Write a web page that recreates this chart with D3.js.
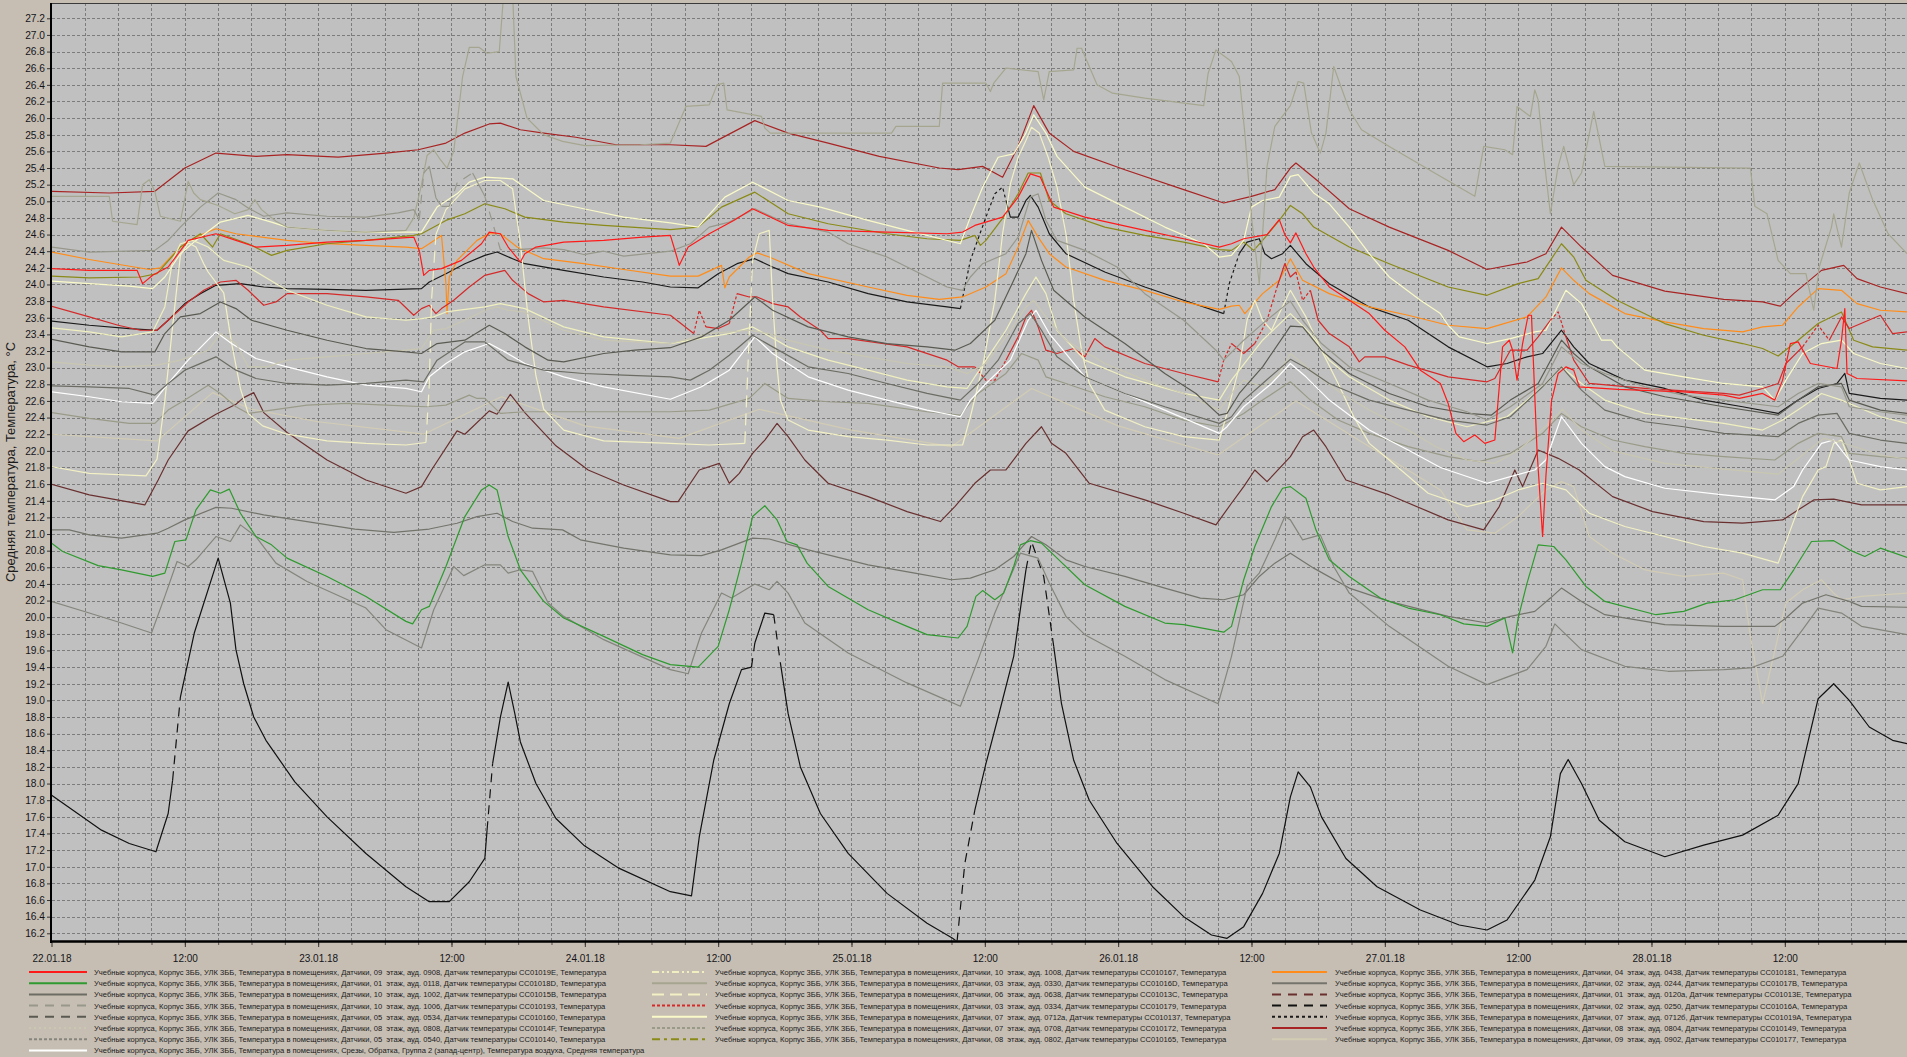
<!DOCTYPE html>
<html><head><meta charset="utf-8">
<script src="https://cdn.jsdelivr.net/npm/d3@7"></script>
<style>
html,body{margin:0;padding:0;background:#c6beb3;overflow:hidden}
svg{display:block}
text{font-family:"Liberation Sans",Arial,sans-serif}
</style></head><body>
<svg id="c" width="1907" height="1057"></svg>
<script>
// ---------------- DATA ----------------
// time in hours since 22.01.18 00:00, value in °C; optional third value 1 = data gap (interpolated segment)
const xTickHours = [0,12,24,36,48,60,72,84,96,108,120,132,144,156];
const xTickLabels = ['22.01.18','12:00','23.01.18','12:00','24.01.18','12:00','25.01.18','12:00','26.01.18','12:00','27.01.18','12:00','28.01.18','12:00'];
const yTickValues = d3.range(0,56).map(i => +(16.2 + i*0.2).toFixed(1));
const yTitle = 'Средняя температура, Температура, °C';

const seriesLabels = [
 'Учебные корпуса, Корпус 3ББ, УЛК 3ББ, Температура в помещениях, Датчики, 09  этаж, ауд. 0908, Датчик температуры СС01019E, Температура',
 'Учебные корпуса, Корпус 3ББ, УЛК 3ББ, Температура в помещениях, Датчики, 01  этаж, ауд. 0118, Датчик температуры СС01018D, Температура',
 'Учебные корпуса, Корпус 3ББ, УЛК 3ББ, Температура в помещениях, Датчики, 10  этаж, ауд. 1002, Датчик температуры СС01015B, Температура',
 'Учебные корпуса, Корпус 3ББ, УЛК 3ББ, Температура в помещениях, Датчики, 10  этаж, ауд. 1006, Датчик температуры СС010193, Температура',
 'Учебные корпуса, Корпус 3ББ, УЛК 3ББ, Температура в помещениях, Датчики, 05  этаж, ауд. 0534, Датчик температуры СС010160, Температура',
 'Учебные корпуса, Корпус 3ББ, УЛК 3ББ, Температура в помещениях, Датчики, 08  этаж, ауд. 0808, Датчик температуры СС01014F, Температура',
 'Учебные корпуса, Корпус 3ББ, УЛК 3ББ, Температура в помещениях, Датчики, 05  этаж, ауд. 0540, Датчик температуры СС010140, Температура',
 'Учебные корпуса, Корпус 3ББ, УЛК 3ББ, Температура в помещениях, Срезы, Обратка, Группа 2 (запад-центр), Температура воздуха, Средняя температура',
 'Учебные корпуса, Корпус 3ББ, УЛК 3ББ, Температура в помещениях, Датчики, 10  этаж, ауд. 1008, Датчик температуры СС010167, Температура',
 'Учебные корпуса, Корпус 3ББ, УЛК 3ББ, Температура в помещениях, Датчики, 03  этаж, ауд. 0330, Датчик температуры СС01016D, Температура',
 'Учебные корпуса, Корпус 3ББ, УЛК 3ББ, Температура в помещениях, Датчики, 06  этаж, ауд. 0638, Датчик температуры СС01013C, Температура',
 'Учебные корпуса, Корпус 3ББ, УЛК 3ББ, Температура в помещениях, Датчики, 03  этаж, ауд. 0334, Датчик температуры СС010179, Температура',
 'Учебные корпуса, Корпус 3ББ, УЛК 3ББ, Температура в помещениях, Датчики, 07  этаж, ауд. 0712а, Датчик температуры СС010137, Температура',
 'Учебные корпуса, Корпус 3ББ, УЛК 3ББ, Температура в помещениях, Датчики, 07  этаж, ауд. 0708, Датчик температуры СС010172, Температура',
 'Учебные корпуса, Корпус 3ББ, УЛК 3ББ, Температура в помещениях, Датчики, 08  этаж, ауд. 0802, Датчик температуры СС010165, Температура',
 'Учебные корпуса, Корпус 3ББ, УЛК 3ББ, Температура в помещениях, Датчики, 04  этаж, ауд. 0438, Датчик температуры СС010181, Температура',
 'Учебные корпуса, Корпус 3ББ, УЛК 3ББ, Температура в помещениях, Датчики, 02  этаж, ауд. 0244, Датчик температуры СС01017B, Температура',
 'Учебные корпуса, Корпус 3ББ, УЛК 3ББ, Температура в помещениях, Датчики, 01  этаж, ауд. 0120а, Датчик температуры СС01013E, Температура',
 'Учебные корпуса, Корпус 3ББ, УЛК 3ББ, Температура в помещениях, Датчики, 02  этаж, ауд. 0250, Датчик температуры СС01016A, Температура',
 'Учебные корпуса, Корпус 3ББ, УЛК 3ББ, Температура в помещениях, Датчики, 07  этаж, ауд. 0712б, Датчик температуры СС01019A, Температура',
 'Учебные корпуса, Корпус 3ББ, УЛК 3ББ, Температура в помещениях, Датчики, 08  этаж, ауд. 0804, Датчик температуры СС010149, Температура',
 'Учебные корпуса, Корпус 3ББ, УЛК 3ББ, Температура в помещениях, Датчики, 09  этаж, ауд. 0902, Датчик температуры СС010177, Температура'
];

const s01 = [[0,24.19],[3.4,24.17],[7.7,24.17],[8.2,24.01],[9.1,24.11],[10.5,24.21],[12.3,24.53],[14.8,24.61],[16.6,24.53],[18.4,24.45],[21.2,24.47],[24.8,24.51],[28.3,24.53],[32.6,24.57],[33.1,24.41],[33.5,24.11],[34.0,24.17],[35.1,24.19],[36.9,24.29],[38.7,24.49],[39.4,24.63],[40.4,24.61],[41.1,24.45],[42.2,24.27],[42.6,24.37],[43.6,24.45],[46.1,24.51],[49.7,24.53],[53.2,24.57],[55.7,24.59],[56.2,24.37],[56.5,24.23],[57.3,24.45],[59.2,24.61],[61.4,24.77],[63.1,24.91],[66.3,24.71],[69.9,24.65],[75.2,24.63],[80.6,24.61],[82.0,24.63],[83.1,24.71],[85.6,24.81],[87.0,25.05],[88.1,25.33],[89.0,25.29],[90.2,24.93],[93.0,24.81],[98.4,24.65],[101.9,24.55],[105.1,24.45],[106.2,24.49],[107.3,24.55],[109.4,24.6],[110.5,24.78],[111.0,24.6],[111.5,24.5],[112.0,24.62],[112.9,24.37],[113.6,24.21],[115.0,23.97],[116.8,23.81],[118.6,23.65],[120.0,23.45],[121.8,23.25],[123.2,22.97],[125.0,22.81],[125.7,22.57],[126.4,22.21],[127.1,22.11],[128.1,22.19],[129.0,22.09],[129.9,22.13],[130.6,23.25],[131.2,23.33],[131.5,23.21],[131.9,22.85],[132.4,23.29],[132.9,23.63],[133.2,23.63],[133.7,22.0],[134.2,20.97],[134.5,21.7],[135.0,22.6],[135.6,22.93],[136.3,23.01],[137.0,22.97],[137.5,22.77],[141.0,22.74],[146.9,22.71],[150.5,22.67],[151.9,22.63],[154.0,22.69],[155.1,22.61],[155.8,22.85],[156.5,23.29],[157.2,23.31],[158.3,23.05],[160.7,22.99],[161.1,23.33],[161.4,23.71],[161.6,22.93],[162.5,22.87],[167,22.84]];
const s02 = [[0,20.89],[1.0,20.79],[4.2,20.62],[6.3,20.57],[9.1,20.49],[10.2,20.53],[11.1,20.91],[12.1,20.93],[13.0,21.29],[14.3,21.53],[15.2,21.49],[16.0,21.54],[17.0,21.25],[18.4,20.97],[19.8,20.87],[21.2,20.71],[24.8,20.49],[28.3,20.25],[31.9,19.95],[32.5,19.92],[33.3,20.09],[34.0,20.13],[35.5,20.61],[37.2,21.21],[38.7,21.53],[39.4,21.59],[40.1,21.53],[41.1,20.97],[42.2,20.57],[44.3,20.19],[46.1,19.99],[49.7,19.77],[53.2,19.55],[55.7,19.43],[58.2,19.40],[60.0,19.65],[61.0,20.09],[62.1,20.65],[63.1,21.21],[64.2,21.34],[65.3,21.17],[66.2,20.91],[67.1,20.87],[68.0,20.65],[69.9,20.37],[73.5,20.09],[77.0,19.89],[78.8,19.79],[81.6,19.75],[82.4,19.89],[83.2,20.25],[83.8,20.32],[84.9,20.21],[85.7,20.29],[86.6,20.61],[87.2,20.87],[88.1,20.92],[89.1,20.89],[90.5,20.71],[93.0,20.39],[96.6,20.13],[100.2,19.93],[101.9,19.91],[105.5,19.82],[106.2,19.89],[107.3,20.45],[108.3,20.85],[109.8,21.33],[110.8,21.55],[111.5,21.57],[112.9,21.43],[113.8,21.05],[115.0,20.69],[116.8,20.49],[119.6,20.23],[122.1,20.11],[125.0,20.03],[127.1,19.92],[129.2,19.89],[130.8,19.99],[131.5,19.57],[132.0,19.99],[132.8,20.41],[133.8,20.87],[135.2,20.85],[136.3,20.69],[138.1,20.37],[139.8,20.19],[144.4,20.03],[146.9,20.07],[149.0,20.17],[151.5,20.21],[154.0,20.33],[155.6,20.33],[156.8,20.57],[158.4,20.91],[160.4,20.92],[161.8,20.81],[163.2,20.73],[164.6,20.83],[167,20.72]];
const s03 = [[0,22.78],[3.4,22.77],[7.0,22.75],[9.3,22.67],[10.5,22.81],[12.0,22.97],[14.8,23.13],[16.6,22.97],[18.4,22.87],[21.2,22.81],[24.8,22.79],[28.3,22.81],[31.9,22.85],[33.5,22.83],[34.7,23.09],[37.2,23.31],[39.0,23.31],[41.1,23.09],[44.3,22.97],[47.9,22.93],[51.5,22.91],[55.7,22.89],[57.5,22.85],[59.2,22.97],[61.0,23.15],[63.1,23.39],[64.9,23.25],[68.1,23.01],[71.7,22.93],[75.2,22.81],[78.8,22.69],[81.8,22.61],[83.4,22.81],[85.2,23.09],[87.0,23.53],[88.1,23.65],[89.1,23.45],[90.5,23.13],[93.0,22.89],[96.6,22.69],[100.2,22.53],[105.1,22.33],[106.2,22.41],[107.3,22.61],[109.0,22.81],[111.5,23.1],[112.9,23.0],[115.0,22.81],[118.6,22.61],[122.1,22.49],[125.7,22.37],[129.2,22.31],[131.3,22.41],[134.2,22.77],[135.9,23.01],[137.7,22.73],[139.8,22.49],[143.4,22.35],[146.9,22.29],[150.5,22.21],[155.4,22.17],[157.2,22.33],[159.0,22.43],[160.7,22.45],[161.8,22.21],[164.6,22.13],[167,22.09]];
const s04 = [[0,24.45],[3.4,24.39],[9.3,24.41],[10.5,24.53],[11.6,24.69],[13.4,24.93],[15.0,25.10],[16.6,25.02],[17.7,24.92],[19.1,24.82],[21.2,24.86],[24.8,24.82],[28.3,24.81],[31.2,24.86],[32.6,24.9],[33.1,24.78],[33.5,25.34,1],[34.0,25.42],[34.6,25.04],[35.1,24.94,1],[35.8,24.94],[36.5,25.22,1],[37.9,25.34,1],[39.0,25.06],[40.4,24.42,1],[41.9,24.42,1],[44.3,24.44],[46.1,24.42],[47.9,24.36],[49.7,24.40],[51.5,24.34],[55.7,24.40],[57.5,24.49],[59.2,24.69],[61.0,24.75],[63.3,24.91],[64.9,24.81],[66.3,24.73],[69.9,24.63],[71.7,24.49],[75.2,24.33],[78.8,24.09],[80.6,23.97],[82.0,23.93],[82.7,24.09],[83.8,24.25],[85.9,24.37],[87.0,24.57],[88.1,25.05],[88.8,25.09],[89.5,24.77],[90.5,24.53],[93.0,24.41],[95.9,24.21],[98.4,23.89],[101.9,23.57],[104.8,23.21],[105.5,23.09],[107.3,23.33],[109.0,23.53],[111.5,23.8],[112.6,23.57],[114.3,23.29],[116.8,23.01],[120.4,22.81],[123.9,22.61],[127.4,22.47],[129.2,22.37],[131.3,22.53],[134.2,22.81],[135.9,23.25],[137.7,23.05],[139.8,22.93],[143.4,22.77],[146.9,22.67],[150.5,22.61],[155.4,22.53],[157.2,22.69],[159.0,22.81],[161.1,22.77],[161.8,22.53],[164.6,22.47],[167,22.43]];
const s05 = [[0,23.34],[3.4,23.25],[6.3,23.19],[9.3,23.19],[10.2,23.41],[11.6,23.61],[13.4,23.65],[15.2,23.79],[16.6,23.71],[18.0,23.57],[21.2,23.45],[24.8,23.33],[28.3,23.23],[31.9,23.19],[33.3,23.17],[34.7,23.29],[37.2,23.33],[39.4,23.51],[40.8,23.41],[42.6,23.25],[44.7,23.09],[46.1,23.07],[49.7,23.17],[52.5,23.21],[55.7,23.24],[58.5,23.37],[61.0,23.57],[63.3,23.85],[64.9,23.69],[68.1,23.49],[71.7,23.37],[75.2,23.29],[78.8,23.25],[81.3,23.21],[82.7,23.29],[84.9,23.57],[86.6,24.05],[87.7,24.37],[88.2,24.65],[89.1,24.29],[90.2,23.93],[93.0,23.61],[96.6,23.29],[100.2,22.93],[103.0,22.69],[105.1,22.43],[105.8,22.45],[106.9,22.69],[109.0,23.01],[111.5,23.5],[112.6,23.49],[114.3,23.21],[116.8,22.93],[120.4,22.69],[123.9,22.53],[127.4,22.45],[129.6,22.43],[131.3,22.61],[133.8,22.81],[135.9,23.33],[137.0,23.17],[138.4,23.01],[141.6,22.77],[145.2,22.65],[150.5,22.53],[155.4,22.43],[157.2,22.61],[159.0,22.77],[161.1,22.81],[161.8,22.61],[164.6,22.49],[167,22.45]];
const s06 = [[0,23.07],[3.4,23.03],[6.3,23.01],[9.5,23.03],[11.6,23.09],[14.1,23.21],[15.2,23.41],[16.6,23.29],[17.7,23.01],[19.4,23.01],[21.2,23.09],[24.8,23.13],[28.3,23.17],[31.9,23.21],[33.3,23.23],[34.4,23.45],[35.5,23.47],[37.2,23.57],[39.0,23.69],[40.1,23.73],[41.1,23.69],[42.6,23.67],[46.1,23.45],[49.7,23.33],[55.7,23.29],[59.2,23.41],[62.8,23.45],[64.6,23.41],[66.3,23.33],[69.9,23.21],[73.5,23.13],[77.0,23.05],[80.6,23.01],[82.4,22.93],[84.1,23.05],[85.9,23.37],[87.7,23.73],[88.4,23.81],[89.5,23.61],[91.3,23.33],[94.8,23.05],[98.4,22.85],[101.9,22.69],[105.1,22.49],[106.2,22.69],[107.3,22.85],[109.0,22.77],[110.5,22.93],[111.5,23.17],[113.3,22.97],[116.1,22.69],[118.6,22.49],[122.1,22.25],[124.6,22.05],[127.4,21.89],[129.9,21.85],[132.0,22.0],[134.5,22.3],[136.0,22.5],[137.7,22.25],[140.5,22.0],[145.2,21.85],[150.5,21.78],[155.4,21.72],[157.6,21.95],[159.5,22.15],[161.1,22.1],[164.6,21.95],[167,21.9]];
const s07 = [[0,20.19],[3.4,20.05],[6.3,19.93],[9.0,19.81],[10.2,20.25],[11.3,20.67],[12.3,20.61],[13.0,20.69],[14.8,20.97],[16.1,20.91],[17.0,21.11],[18.4,20.97],[20.2,20.65],[23.0,20.43],[28.3,20.11],[30.1,19.85],[33.3,19.63],[34.4,20.09],[36.2,20.61],[37.1,20.50],[39.0,20.63],[40.4,20.63],[41.1,20.53],[42.2,20.57],[43.3,20.55],[44.7,20.17],[46.1,20.01],[49.7,19.73],[55.7,19.37],[57.3,19.32],[58.5,19.81],[60.3,20.29],[61.2,20.23],[63.3,20.40],[64.6,20.33],[65.3,20.43],[66.3,20.29],[67.8,19.93],[71.7,19.57],[77.0,19.21],[80.6,19.00],[81.8,18.93],[83.4,19.49],[84.9,20.05],[86.3,20.49],[87.2,20.77],[88.8,20.71],[89.8,20.41],[91.3,20.01],[93.0,19.79],[96.6,19.53],[100.2,19.25],[105.0,18.96],[106.2,19.53],[107.6,20.37],[108.7,20.53],[110.1,20.93],[111.0,21.21],[111.5,21.17],[112.6,20.93],[114.2,20.99],[115.4,20.61],[116.8,20.29],[120.4,19.89],[125.7,19.41],[129.2,19.19],[132.8,19.37],[134.5,19.65],[135.3,19.92],[137.7,19.61],[141.6,19.41],[145.5,19.35],[150.5,19.37],[152.9,19.39],[155.8,19.53],[157.6,19.85],[159.0,20.11],[161.1,20.05],[162.9,19.89],[167,19.79]];
const s08 = [[0,22.71],[3.4,22.65],[6.3,22.59],[9.1,22.57],[10.5,22.81],[12.3,23.09],[14.8,23.43],[16.2,23.29],[18.4,23.11],[21.2,23.01],[24.8,22.89],[28.3,22.79],[31.9,22.75],[33.3,22.71],[34.0,22.89],[35.5,23.05],[37.2,23.19],[39.4,23.29],[40.8,23.19],[42.6,23.05],[46.1,22.89],[49.7,22.77],[55.7,22.62],[58.5,22.77],[61.0,22.97],[63.3,23.37],[64.9,23.17],[68.1,22.89],[71.7,22.73],[75.2,22.61],[78.8,22.49],[81.8,22.41],[82.7,22.61],[84.1,22.81],[86.3,23.09],[87.9,23.57],[88.6,23.69],[89.8,23.41],[91.3,23.17],[93.0,22.89],[96.6,22.69],[100.2,22.49],[105.1,22.21],[105.8,22.29],[107.3,22.53],[109.8,22.81],[111.5,23.05],[112.9,22.89],[115.0,22.61],[118.6,22.25],[122.1,22.01],[125.0,21.8],[129.2,21.61],[131.3,21.69],[133.5,21.77],[134.5,21.89],[135.9,22.41],[137.7,22.09],[139.8,21.81],[141.6,21.69],[145.2,21.55],[150.5,21.47],[155.1,21.41],[156.8,21.57],[157.6,21.77],[159.3,22.09],[160.4,22.13],[161.8,21.89],[164.6,21.81],[167,21.77]];
const s09 = [[0,23.48],[3.4,23.43],[6.3,23.37],[9.1,23.43],[10.2,23.73],[10.9,24.29],[11.6,24.49],[12.7,24.53],[14.1,24.45],[15.5,24.29],[17.7,24.21],[21.2,23.93],[24.8,23.75],[28.3,23.61],[31.9,23.57],[33.3,23.59],[34.4,23.61],[35.5,23.67],[39.0,23.73],[40.4,23.77],[42.6,23.71],[46.1,23.49],[49.7,23.37],[55.7,23.29],[59.2,23.37],[61.0,23.41],[63.1,23.49],[66.3,23.25],[69.9,23.09],[73.5,22.97],[77.0,22.85],[80.6,22.77],[82.4,22.75],[84.1,23.09],[85.9,23.45],[87.7,23.89],[88.6,24.09],[89.5,23.89],[90.5,23.45],[93.0,23.09],[96.6,22.89],[101.9,22.69],[105.1,22.61],[106.2,22.85],[107.6,23.09],[109.0,23.33],[111.5,23.65],[113.3,23.41],[115.0,23.09],[116.8,22.89],[120.4,22.61],[123.9,22.41],[127.4,22.29],[131.0,22.41],[132.8,22.61],[134.5,22.81],[135.9,23.01],[137.7,22.81],[139.8,22.61],[143.4,22.45],[146.9,22.39],[150.5,22.33],[154.0,22.25],[155.8,22.37],[157.6,22.53],[159.3,22.69],[161.1,22.61],[164.6,22.41],[167,22.33]];
const s10 = [[0,25.06],[5.2,25.06],[5.5,24.76],[7.7,24.72],[8.2,25.2],[8.8,25.26],[9.3,25.12],[9.8,24.82],[11.6,24.76],[12.3,25.24],[12.8,25.1],[13.4,25.02],[15.0,24.95],[16.5,24.85],[17.7,24.9],[18.3,25.02],[18.9,24.9],[20.2,24.76],[21.2,24.69],[24.8,24.65],[28.3,24.63],[31.9,24.65],[32.6,24.8],[33.3,25.2],[33.8,25.55],[34.4,25.62],[35.0,25.5],[35.6,25.4],[36.2,25.6],[37.0,26.5],[37.6,26.85],[38.5,26.85],[39.2,26.78],[40.3,26.8],[40.7,27.5],[41.5,27.5],[41.8,26.5],[42.8,26.0],[44.3,25.8],[46.0,25.72],[48.0,25.67],[53.0,25.68],[55.7,25.70],[57.1,26.14],[59.2,26.16],[59.9,26.40],[60.5,26.42],[60.8,26.10],[63.9,26.02],[64.2,25.88],[64.7,25.82],[75.6,25.82],[76.0,25.90],[79.9,25.90],[80.2,26.42],[84.1,26.42],[84.5,26.32],[84.8,26.42],[85.9,26.60],[88.8,26.56],[89.3,26.22],[89.8,26.56],[92.0,26.58],[92.3,26.84],[92.7,26.84],[94.1,26.40],[95.5,26.30],[98.4,26.24],[103.7,26.15],[104.1,26.54],[104.8,26.82],[106.2,26.68],[106.9,26.50],[107.4,25.82],[108.0,24.81],[108.7,24.01],[109.0,24.61],[109.4,25.42],[110.1,25.90],[111.5,26.15],[112.2,26.44],[112.7,26.42],[113.4,25.82],[114.2,25.58],[114.7,25.82],[115.4,26.62],[116.8,26.10],[117.9,25.86],[120.4,25.66],[124.6,25.33],[128.1,25.06],[128.9,25.66],[130.8,25.62],[131.5,25.56],[131.9,26.14],[133.1,26.02],[133.5,26.34],[133.8,26.22],[134.2,25.66],[134.9,24.85],[135.6,25.42],[136.1,25.66],[137.0,25.20],[137.7,25.34],[138.8,26.08],[139.8,25.42],[152.9,25.40],[153.3,24.94],[154.4,24.85],[155.4,24.29],[156.5,24.13],[157.9,24.13],[158.6,23.69],[159.1,24.21],[160.2,24.69],[160.4,24.85],[161.1,24.45],[161.8,25.10],[162.7,25.46],[163.9,25.02],[165.3,24.61],[167,24.37]];
const s11 = [[0,21.81],[3.4,21.73],[8.5,21.7],[9.5,21.9],[10.2,22.6],[10.9,23.5],[11.6,24.35],[12.3,24.5],[13.0,24.45],[13.7,24.25],[14.1,24.15],[15.5,23.9],[16.2,23.3],[17.0,22.75],[17.7,22.45],[19.0,22.3],[21.2,22.2],[24.8,22.12],[28.3,22.09],[31.9,22.07],[33.7,22.1],[34.0,22.8,1],[34.2,23.8,1],[34.6,24.6,1],[35.5,24.9],[37.2,25.15],[39.0,25.25],[40.4,25.25],[41.5,25.15],[42.2,24.5],[42.9,23.6],[43.6,22.9],[44.3,22.5],[46.1,22.25],[49.7,22.12],[55.7,22.09],[59.2,22.07],[62.4,22.09],[62.8,23.41,1],[63.1,24.29,1],[63.7,24.61],[64.6,24.65],[64.9,23.81],[65.3,23.01],[65.6,22.61],[66.3,22.37],[68.1,22.25],[71.7,22.17],[75.2,22.13],[78.8,22.07],[82.0,22.07],[82.7,22.41],[83.8,23.01],[84.9,23.81],[85.6,24.61],[86.3,25.21],[87.0,25.53],[87.7,25.73],[88.2,25.89],[88.9,25.82],[89.7,25.53],[90.5,25.17],[91.3,24.61],[92.0,23.81],[92.7,23.21],[93.4,22.81],[94.8,22.49],[98.4,22.29],[101.9,22.17],[105.1,22.13],[105.8,22.45],[106.9,23.01],[107.6,23.57],[108.3,23.81],[109.0,23.57],[109.8,23.45],[110.5,23.65],[111.5,23.93],[112.9,23.61],[114.3,23.21],[115.8,22.81],[117.2,22.41],[118.6,22.09],[120.4,21.89],[123.9,21.49],[127.4,21.33],[129.9,21.41],[132.0,21.53],[134.2,21.61],[136.3,21.53],[138.4,21.25],[141.6,21.09],[145.2,20.97],[148.7,20.85],[152.2,20.77],[155.4,20.65],[156.5,21.05],[157.6,21.45],[159.0,21.77],[159.7,21.81],[160.4,22.09],[161.1,22.13],[161.8,21.89],[162.5,21.61],[164.6,21.53],[167,21.57]];
const s12 = [[0,23.74],[3.4,23.61],[6.0,23.51],[8.0,23.45],[9.5,23.45],[10.5,23.57],[12.3,23.79],[13.7,23.93],[15.2,24.03],[16.6,24.05],[17.7,23.93],[19.1,23.75],[20.2,23.79],[21.2,23.89],[24.8,23.89],[28.3,23.85],[31.2,23.81],[32.6,23.63],[33.3,23.71],[34.0,23.75],[34.6,23.65],[35.1,23.71],[36.2,23.81],[37.6,23.97],[39.0,24.11],[40.8,24.17],[41.5,24.05],[42.9,23.89],[44.3,23.79],[46.1,23.81],[49.7,23.73],[55.7,23.63],[57.8,23.41],[58.3,23.69,1],[58.9,23.49,1],[60.0,23.47],[61.0,23.53],[61.7,23.89,1],[62.8,23.85],[63.5,23.85],[64.9,23.77],[66.3,23.73],[67.4,23.61],[69.2,23.45],[69.9,23.35],[71.7,23.35],[77.0,23.25],[80.6,23.09],[81.6,23.01],[83.1,23.01],[84.1,22.85,1],[84.9,22.85,1],[85.9,23.09,1],[87.0,23.37],[87.7,23.61],[88.2,23.69],[88.8,23.49],[89.5,23.21],[90.5,23.17],[92.0,23.23],[93.0,23.13],[93.9,23.35],[94.8,23.25],[98.4,23.05],[101.9,22.93],[105.0,22.83],[105.5,23.09,1],[106.2,23.29,1],[107.3,23.17],[108.3,23.29],[109.4,23.57,1],[110.3,23.97,1],[111.0,24.25],[111.5,24.09],[112.0,24.15],[112.6,23.81,1],[113.3,23.93,1],[114.0,23.57],[115.0,23.41],[116.8,23.25],[117.7,23.07],[118.2,23.13],[120.0,23.13],[122.1,23.03],[125.7,22.89],[129.2,22.83],[129.9,22.87],[131.3,23.21],[132.8,23.21],[133.8,23.37],[134.9,23.57],[135.6,23.67,1],[136.3,23.37,1],[137.0,23.09],[138.4,22.81],[143.4,22.75],[150.5,22.69],[151.9,22.67],[154.0,22.75],[155.4,22.81],[156.1,23.05],[157.6,23.25],[159.0,23.51,1],[160.0,23.33,1],[161.1,23.61],[161.8,23.47],[164.6,23.63],[165.7,23.41],[167,23.43]];
const s13 = [[0,24.04],[3.4,24.01],[7.0,23.98],[9.1,23.95],[10.2,24.09],[11.6,24.37],[13.0,24.53],[15.2,24.75],[17.7,24.83],[19.8,24.75],[21.2,24.69],[24.8,24.65],[28.3,24.63],[33.3,24.63],[34.7,24.93],[36.5,25.09],[37.6,25.23],[39.0,25.29],[41.5,25.27],[44.3,25.01],[47.9,24.91],[51.5,24.81],[55.7,24.74],[58.2,24.69],[60.6,25.05],[63.1,25.23],[66.3,25.01],[69.2,24.93],[73.5,24.77],[77.0,24.65],[81.8,24.49],[82.7,24.81],[83.8,25.17],[85.2,25.53],[86.6,25.57],[87.7,25.82],[88.4,26.04],[89.5,25.82],[90.5,25.54],[93.0,25.17],[96.6,24.93],[100.2,24.69],[103.7,24.49],[105.1,24.33],[106.2,24.35],[107.3,24.53],[108.0,24.93],[109.0,25.01],[110.5,25.05],[111.5,25.3],[112.2,25.32],[113.6,25.10],[115.0,24.97],[116.8,24.69],[118.6,24.37],[120.4,24.09],[123.2,23.81],[125.0,23.65],[125.7,23.51],[126.7,23.37],[129.2,23.29],[131.3,23.35],[133.5,23.43],[134.5,23.45],[136.3,23.93],[137.7,23.77],[139.5,23.33],[140.4,23.33],[140.9,23.25],[143.4,22.97],[146.9,22.89],[150.5,22.81],[154.0,22.77],[155.1,22.61],[156.1,22.85],[157.6,23.17],[159.3,23.29],[161.1,23.33],[162.2,23.17],[164.6,23.05],[167,22.99]];
const s14 = [[0,22.46],[3.4,22.39],[7.0,22.33],[9.3,22.33],[10.5,22.49],[12.0,22.61],[14.1,22.79],[15.2,22.69],[16.6,22.53],[17.7,22.45],[19.8,22.49],[23.0,22.55],[26.6,22.57],[30.1,22.55],[33.7,22.53],[35.5,22.55],[37.6,22.67],[38.3,22.63],[39.0,22.63],[40.4,22.45],[42.6,22.47],[46.1,22.47],[55.7,22.47],[59.2,22.49],[62.8,22.63],[64.2,22.81],[64.9,22.75],[66.3,22.63],[69.9,22.59],[73.5,22.57],[78.8,22.47],[81.8,22.43],[83.4,22.69],[85.9,22.93],[87.3,23.17],[88.8,23.09],[89.5,22.89],[91.3,22.81],[94.8,22.65],[98.4,22.53],[101.9,22.37],[105.1,22.29],[107.3,22.45],[109.0,22.61],[111.5,22.83],[113.3,22.61],[115.8,22.37],[118.6,22.21],[122.1,22.05],[125.7,21.93],[128.5,21.87],[131.3,21.97],[134.2,22.21],[135.9,22.45],[137.7,22.29],[140.5,22.13],[143.4,22.05],[146.9,21.97],[150.5,21.93],[155.1,21.89],[157.2,22.09],[159.0,22.21],[161.1,22.17],[161.8,21.97],[164.6,21.93],[167,21.91]];
const s15 = [[0,24.10],[3.4,24.08],[8.0,24.09],[9.5,24.13],[11.6,24.45],[13.4,24.61],[14.5,24.45],[15.2,24.61],[17.7,24.49],[19.8,24.35],[21.2,24.41],[24.8,24.49],[28.3,24.53],[32.6,24.59],[33.3,24.61],[35.5,24.77],[37.2,24.85],[39.0,24.97],[40.8,24.91],[42.6,24.81],[46.1,24.75],[49.7,24.71],[55.7,24.66],[58.2,24.69],[60.3,24.93],[63.3,25.11],[66.3,24.85],[69.9,24.73],[75.2,24.61],[78.8,24.55],[81.8,24.53],[83.1,24.59],[83.6,24.47],[84.1,24.53],[85.9,24.85],[87.0,25.09],[87.9,25.34],[89.0,25.34],[89.8,25.01],[91.3,24.85],[94.8,24.69],[98.4,24.59],[101.9,24.51],[105.1,24.42],[106.2,24.41],[107.3,24.51],[108.2,24.41],[109.0,24.53],[110.5,24.77],[111.5,24.95],[112.6,24.85],[113.6,24.69],[116.8,24.45],[120.4,24.25],[125.7,23.97],[129.2,23.87],[132.0,24.01],[133.8,24.07],[134.9,24.29],[135.9,24.49],[137.0,24.33],[138.1,24.05],[140.9,23.81],[145.2,23.53],[148.7,23.39],[152.2,23.29],[154.0,23.23],[155.4,23.14],[157.2,23.33],[159.0,23.53],[161.1,23.67],[162.2,23.33],[163.9,23.25],[167,23.21]];
const s16 = [[0,24.39],[3.4,24.30],[8.8,24.18],[9.8,24.20],[11.6,24.45],[13.0,24.57],[14.8,24.67],[16.6,24.61],[21.2,24.53],[24.8,24.49],[28.3,24.47],[31.9,24.45],[33.3,24.43],[34.0,24.49],[35.1,24.59],[35.5,24.01],[35.6,23.65],[35.8,24.09],[36.5,24.29],[38.3,24.53],[39.4,24.61],[40.4,24.61],[41.9,24.45],[44.3,24.31],[47.9,24.25],[51.5,24.18],[55.7,24.10],[58.2,24.10],[60.3,24.23],[60.6,23.96],[61.0,24.09],[62.8,24.33],[63.5,24.38],[64.6,24.33],[68.1,24.13],[73.5,23.97],[77.0,23.87],[79.9,23.82],[82.0,23.85],[84.1,23.97],[85.9,24.13],[87.0,24.45],[87.9,24.77],[88.8,24.57],[89.8,24.37],[91.3,24.21],[94.8,24.05],[98.4,23.93],[101.9,23.79],[105.1,23.70],[106.2,23.74],[106.9,23.75],[107.4,23.65],[109.0,23.89],[110.5,24.05],[111.5,24.31],[112.6,24.05],[115.0,23.89],[118.6,23.73],[122.1,23.63],[125.7,23.51],[129.2,23.47],[132.8,23.61],[134.5,23.85],[135.9,24.20],[137.0,24.05],[138.4,23.89],[141.6,23.65],[145.2,23.55],[148.7,23.47],[152.2,23.43],[154.0,23.49],[155.8,23.51],[157.2,23.73],[159.0,23.95],[161.1,23.93],[162.5,23.77],[164.6,23.69],[167,23.67]];
const s17 = [[0,21.05],[1.6,21.05],[3.4,20.99],[6.3,20.95],[9.5,21.01],[10.5,21.07],[12.0,21.17],[14.8,21.32],[16.2,21.31],[19.1,21.23],[23.0,21.15],[27.3,21.06],[30.8,21.02],[34.0,21.06],[36.5,21.13],[38.3,21.21],[40.1,21.25],[41.5,21.15],[43.3,21.07],[46.0,21.05],[47.6,20.93],[51.5,20.83],[55.7,20.75],[58.5,20.74],[60.3,20.81],[63.1,20.95],[64.6,20.94],[68.1,20.81],[73.5,20.63],[77.7,20.53],[81.0,20.45],[82.7,20.47],[84.9,20.57],[86.6,20.73],[88.2,20.97],[89.5,20.87],[91.3,20.69],[93.0,20.61],[96.6,20.49],[100.2,20.35],[103.4,20.23],[105.5,20.21],[107.3,20.27],[108.7,20.49],[110.1,20.65],[111.5,20.77],[113.6,20.59],[116.8,20.35],[120.4,20.19],[125.7,20.01],[129.2,19.93],[131.3,20.01],[133.5,20.07],[134.9,20.23],[135.9,20.35],[137.7,20.19],[139.8,20.03],[145.2,19.91],[150.5,19.89],[155.1,19.89],[156.1,19.99],[157.6,20.17],[159.7,20.27],[161.8,20.19],[162.9,20.13],[167,20.12]];
const s18 = [[0,21.6],[3.4,21.47],[8.4,21.35],[9.6,21.65],[10.5,21.89],[12.3,22.24],[14.8,22.44],[16.6,22.56],[17.3,22.64],[18.2,22.7],[19.1,22.46],[21.2,22.22],[24.8,21.89],[28.3,21.65],[31.9,21.49],[33.3,21.57],[34.2,21.77],[36.5,22.24],[37.2,22.2],[39.4,22.48],[40.1,22.44],[41.3,22.68],[42.6,22.46],[45.4,22.06],[48.3,21.77],[51.5,21.59],[55.7,21.39],[56.4,21.39],[58.3,21.77],[60.1,21.85],[61.0,21.61],[61.9,21.73],[63.1,21.97],[64.2,22.13],[65.3,22.33],[66.3,22.17],[67.8,21.89],[69.9,21.61],[73.5,21.45],[77.0,21.27],[80.0,21.15],[81.3,21.33],[83.1,21.61],[84.5,21.77],[85.9,21.77],[87.7,22.09],[89.1,22.29],[90.0,22.09],[91.3,21.97],[93.4,21.61],[98.4,21.41],[101.9,21.25],[104.8,21.11],[106.2,21.37],[107.3,21.57],[108.3,21.77],[109.4,21.63],[111.5,21.93],[112.6,22.17],[113.6,22.25],[114.7,22.05],[116.5,21.65],[120.4,21.47],[125.7,21.17],[128.9,21.05],[130.3,21.33],[131.7,21.77],[132.4,21.57],[133.8,22.01],[135.6,21.91],[137.5,21.77],[140.5,21.45],[144.1,21.27],[148.7,21.15],[152.2,21.13],[155.8,21.17],[158.6,21.41],[160.4,21.42],[162.9,21.35],[167,21.35]];
const s19 = [[0,17.86],[4.5,17.44],[7.0,17.28],[9.4,17.18],[10.5,17.64],[10.9,18.04],[11.6,19.04,1],[12.85,19.81],[15.0,20.71],[16.1,20.17],[16.6,19.61],[17.3,19.2],[18.2,18.8],[19.3,18.52],[21.9,18.02],[24.8,17.6],[28.3,17.16],[31.9,16.76],[34.0,16.58],[35.8,16.58],[37.6,16.82],[39.0,17.1],[39.2,17.44],[39.7,18.24,1],[40.4,18.8],[41.1,19.22],[41.7,18.84],[42.2,18.5],[43.6,18.0],[45.4,17.58],[47.9,17.26],[51.1,16.98],[55.7,16.7],[57.6,16.65],[58.3,17.36],[59.6,18.28],[61.0,18.96],[62.1,19.37],[63.0,19.4],[63.3,19.69,1],[64.2,20.05],[65.0,20.03],[65.6,19.45,1],[66.3,18.84],[67.4,18.2],[69.2,17.64],[71.7,17.16],[75.2,16.68],[78.8,16.32],[81.1,16.14],[81.5,16.1],[82.2,17.04,1],[83.1,17.68,1],[84.1,18.24],[85.2,18.8],[86.6,19.53],[87.7,20.57],[88.2,20.91,1],[89.3,20.49,1],[90.2,19.65,1],[90.9,18.96],[92.0,18.28],[93.4,17.8],[95.9,17.28],[99.1,16.76],[101.9,16.4],[104.4,16.18],[105.8,16.14],[107.3,16.28],[109.0,16.68],[110.5,17.16],[111.5,17.84],[112.2,18.14],[113.3,17.96],[114.3,17.6],[116.5,17.1],[119.3,16.76],[123.2,16.48],[126.7,16.3],[129.2,16.24],[131.0,16.36],[133.5,16.84],[134.9,17.36],[135.8,18.12],[136.5,18.29],[137.7,18.0],[139.3,17.56],[141.6,17.3],[145.2,17.12],[148.7,17.26],[152.2,17.38],[155.4,17.62],[157.2,18.0],[159.0,19.02],[160.4,19.2],[161.8,19.0],[163.6,18.68],[165.7,18.52],[167,18.48]];
const s20 = [[0,23.56],[3.4,23.51],[7.0,23.47],[9.5,23.45],[10.5,23.57],[12.0,23.77],[13.4,23.89],[14.8,23.99],[17.0,24.01],[19.1,23.97],[21.2,23.95],[24.8,23.94],[28.3,23.93],[33.3,23.95],[34.0,24.03],[35.5,24.13],[37.2,24.25],[39.0,24.35],[40.1,24.39],[41.5,24.31],[42.6,24.25],[46.1,24.17],[49.7,24.09],[53.2,24.03],[55.7,23.97],[58.2,23.96],[60.0,24.13],[61.7,24.25],[63.3,24.31],[64.9,24.21],[66.3,24.13],[69.9,24.03],[73.5,23.89],[77.0,23.79],[80.6,23.73],[81.8,23.71],[82.7,24.29,1],[84.1,24.81,1],[84.9,25.09,1],[85.6,25.17,1],[85.9,25.01,1],[86.3,24.81],[87.0,24.81],[87.7,25.01],[88.1,25.07],[88.8,24.93],[89.8,24.61],[91.3,24.37],[94.8,24.15],[98.4,23.97],[101.9,23.81],[105.5,23.65],[106.0,24.01,1],[106.9,24.37,1],[107.6,24.51],[108.7,24.55],[109.2,24.37],[109.8,24.31],[110.8,24.37],[111.5,24.47],[112.9,24.25],[115.0,24.01],[118.6,23.73],[122.1,23.57],[125.7,23.25],[129.2,23.01],[131.0,23.05],[132.8,23.13],[134.2,23.17],[135.9,23.45],[137.0,23.25],[138.4,23.05],[141.6,22.85],[145.2,22.75],[148.7,22.61],[152.2,22.53],[155.4,22.45],[157.2,22.61],[159.0,22.75],[160.7,22.81],[161.4,22.93],[161.8,22.69],[164.6,22.63],[167,22.61]];
const s21 = [[0,25.12],[5.2,25.10],[9.3,25.12],[12.0,25.40],[14.8,25.58],[18.4,25.54],[21.2,25.56],[25.8,25.53],[30.1,25.58],[33.0,25.62],[35.5,25.70],[37.2,25.82],[39.4,25.93],[40.4,25.94],[42.2,25.86],[44.3,25.82],[47.2,25.77],[50.8,25.68],[55.7,25.68],[58.9,25.66],[63.3,25.97],[66.3,25.82],[69.9,25.70],[74.5,25.54],[79.9,25.40],[81.6,25.38],[83.8,25.42],[85.6,25.29],[87.0,25.66],[88.4,26.15],[89.8,25.82],[92.0,25.60],[96.6,25.38],[101.9,25.14],[105.5,24.98],[108.0,25.06],[110.1,25.14],[111.5,25.40],[112.0,25.46],[114.0,25.24],[116.8,24.91],[120.4,24.69],[125.7,24.41],[129.2,24.18],[132.8,24.27],[134.5,24.37],[135.9,24.69],[137.7,24.45],[140.5,24.11],[145.2,23.92],[150.5,23.82],[154.0,23.79],[155.6,23.74],[156.8,23.89],[159.3,24.17],[161.3,24.23],[162.5,24.07],[164.6,23.97],[167,23.89]];
const s22 = [[0,22.2],[9.5,22.12],[14.5,22.7],[18,22.5],[24,22.35],[33.5,22.2],[40.5,22.65],[48,22.3],[56.5,22.15],[63.7,22.5],[72,22.25],[81,22.05],[88.2,22.75],[96,22.3],[105,21.95],[112,22.6],[118,22.1],[125.0,21.53],[127.4,21.05],[129.9,21.01],[132.0,21.21],[134.5,21.53],[135.9,21.63],[137.0,21.57],[138.4,20.97],[140.5,20.77],[143.4,20.57],[146.9,20.49],[150.5,20.53],[152.2,20.45],[152.9,19.77],[154.0,18.96],[154.7,19.37],[156.1,20.17],[157.6,20.33],[159.3,20.45],[160.4,20.29],[161.1,20.21],[162.9,20.25],[167,20.29]];

const seriesValues = [s01,s02,s03,s04,s05,s06,s07,s08,s09,s10,s11,s12,s13,s14,s15,s16,s17,s18,s19,s20,s21,s22];

// styles (colour, dash pattern) per series, in legend order
const seriesColors = ['#ff1a1a','#2f9a2f','#6c6c64','#97978b','#5a5a52','#c9c7b1','#85857d','#ffffff','#efefbf','#a6a690','#f2f0c4','#d42a2a','#fafac8','#9a9a88','#8a8a18','#ff8c1a','#74746c','#6a3030','#111111','#1a1a1a','#a82424','#d2ccb4'];
const seriesDash = [null,null,null,'9,7','9,7','2,3','3,2',null,'7,3,2,3,2,3',null,'12,6','3,2',null,'3,2','8,4,3,4',null,null,'9,7','9,7','3,3',null,null];

// ---------------- DRAW ----------------
const W = 1907, H = 1057;
const L = 51, T = 3, B = 941;
const AXFONT = '"DejaVu Sans","Liberation Sans",Arial,sans-serif';
const svg = d3.select('#c');
const x = d3.scaleLinear().domain([0,168]).range([51.5, 51.5 + 168*11.111]);
const y = d3.scaleLinear().domain([16.2,27.2]).range([933.3,18.3]);

svg.append('rect').attr('width',W).attr('height',H).attr('fill','#c6beb3');
svg.append('rect').attr('x',L).attr('y',T).attr('width',W-L).attr('height',B-T).attr('fill','#c0c0c0');

svg.append('defs').append('clipPath').attr('id','clip')
  .append('rect').attr('x',L+1).attr('y',T+0.5).attr('width',W-L).attr('height',B-T-1);

// grid
const grid = svg.append('g').attr('stroke','#7c7c7c').attr('stroke-width',1).attr('stroke-dasharray','3,2');
grid.selectAll('line.h').data(yTickValues).join('line')
  .attr('x1',L+1).attr('x2',W)
  .attr('y1',d=>Math.round(y(d))+0.5).attr('y2',d=>Math.round(y(d))+0.5);
grid.selectAll('line.v').data(d3.range(3,169,3)).join('line')
  .attr('y1',T).attr('y2',B)
  .attr('x1',d=>Math.round(x(d))+0.5).attr('x2',d=>Math.round(x(d))+0.5);

// series
const lineGen = d3.line().x(d=>x(d[0])).y(d=>y(d[1]));
const plot = svg.append('g').attr('clip-path','url(#clip)').attr('fill','none');
for (let si = seriesValues.length-1; si >= 0; si--) {
  const data = seriesValues[si];
  const col = seriesColors[si];
  const runs = [], gaps = [];
  let run = [data[0]], gap = null;
  for (let i=1;i<data.length;i++){
    if (data[i][2]) {
      if (run.length>1) runs.push(run);
      run = [data[i]];
      if (!gap) { gap = [data[i-1]]; gaps.push(gap); }
      gap.push(data[i]);
    } else {
      gap = null;
      run.push(data[i]);
    }
  }
  if (run.length>1) runs.push(run);
  const sg = plot.append('g').attr('stroke',col).attr('stroke-width',1.2).attr('stroke-linejoin','round');
  runs.forEach(r => sg.append('path').attr('d',lineGen(r)));
  gaps.forEach(gp => sg.append('path').attr('d',lineGen(gp)).attr('stroke-dasharray', seriesDash[si] || '6,4'));
}

// axes
const yAxis = d3.axisLeft(y).tickValues(yTickValues).tickFormat(d3.format('.1f')).tickSize(4).tickPadding(2);
const ya = svg.append('g').attr('transform',`translate(${L},0)`).call(yAxis);
ya.select('.domain').remove();
ya.selectAll('text').attr('font-size',10.2).attr('fill','#141418').attr('font-family',AXFONT);
ya.selectAll('line').attr('stroke','#333');

const xMinor = d3.axisBottom(x).tickValues(d3.range(3,168,3)).tickSize(4).tickFormat('');
const xm = svg.append('g').attr('transform',`translate(0,${B})`).call(xMinor);
xm.select('.domain').remove();
xm.selectAll('line').attr('stroke','#555');

const xAxis = d3.axisBottom(x).tickValues(xTickHours).tickSize(6).tickPadding(8).tickFormat((d,i)=>xTickLabels[i]);
const xa = svg.append('g').attr('transform',`translate(0,${B})`).call(xAxis);
xa.select('.domain').remove();
xa.selectAll('text').attr('font-size',10).attr('fill','#141418').attr('font-family',AXFONT);
xa.selectAll('line').attr('stroke','#333');

// frame
svg.append('line').attr('x1',L).attr('x2',W).attr('y1',T+0.5).attr('y2',T+0.5).attr('stroke','#3a3a3a').attr('stroke-width',1);
svg.append('line').attr('x1',L).attr('x2',L).attr('y1',T).attr('y2',B+2).attr('stroke','#000').attr('stroke-width',2);
svg.append('line').attr('x1',L-1).attr('x2',W).attr('y1',B+0.5).attr('y2',B+0.5).attr('stroke','#000').attr('stroke-width',2.5);

// y title
const yt = svg.append('text').attr('transform','translate(12,462) rotate(-90)')
  .attr('text-anchor','middle').attr('dominant-baseline','middle')
  .attr('font-size',11).attr('fill','#1a1a1a').attr('font-family',AXFONT).text(yTitle);
const ytw = yt.node().getComputedTextLength();
yt.attr('font-size', (11*240/ytw).toFixed(2));

// legend
const legCols = [{sx:29, ex:87, tx:94}, {sx:652, ex:707, tx:715}, {sx:1272, ex:1327, tx:1335}];
const legRows = [8,7,7];
const leg = svg.append('g');
let idx = 0;
const texts = [];
legCols.forEach((c,ci)=>{
  for (let r=0;r<legRows[ci];r++){
    const i = idx++;
    const ry = 972 + r*11.2;
    leg.append('line').attr('x1',c.sx).attr('x2',c.ex).attr('y1',ry).attr('y2',ry)
      .attr('stroke',seriesColors[i]).attr('stroke-width',2)
      .attr('stroke-dasharray',seriesDash[i]);
    const t = leg.append('text').attr('x',c.tx).attr('y',ry+3).attr('font-size',8.5)
      .attr('fill','#1a1a1a').style('white-space','pre').text(seriesLabels[i]);
    texts.push(t);
  }
});
// size the legend font so that the first label is ~513px wide (as in the reference)
const w0 = texts[0].node().getComputedTextLength();
const legFont = 8.5 * 513 / w0;
texts.forEach(t => t.attr('font-size', legFont.toFixed(2)));
</script>
</body></html>
